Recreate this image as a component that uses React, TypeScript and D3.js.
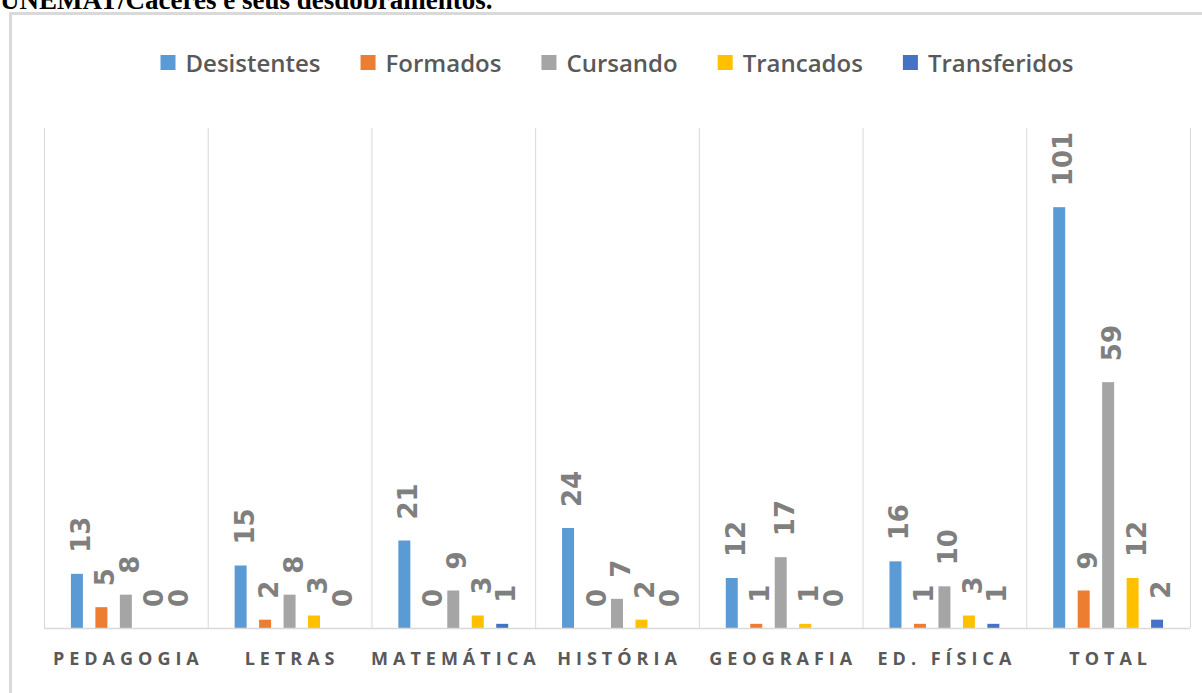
import React from "react";
import * as d3 from "d3";

const categories = ["PEDAGOGIA", "LETRAS", "MATEMÁTICA", "HISTÓRIA", "GEOGRAFIA", "ED. FÍSICA", "TOTAL"];
const seriesNames = ["Desistentes", "Formados", "Cursando", "Trancados", "Transferidos"];
const seriesColors = ["#5B9BD5", "#ED7D31", "#A5A5A5", "#FFC000", "#4472C4"];
const desistentes = [13, 15, 21, 24, 12, 16, 101];
const formados = [5, 2, 0, 0, 1, 1, 9];
const cursando = [8, 8, 9, 7, 17, 10, 59];
const trancados = [0, 3, 3, 2, 1, 3, 12];
const transferidos = [0, 0, 1, 0, 0, 1, 2];
const seriesValues = [desistentes, formados, cursando, trancados, transferidos];
const yMax = 120;
const titleText = "UNEMAT/Cáceres e seus desdobramentos.";

const W = 1202;
const H = 693;
const plot = { left: 44, right: 1190, top: 128, bottom: 628 };

function measure(text: string, font: string): number {
  const c = document.createElement("canvas").getContext("2d");
  if (!c) return text.length * 12;
  c.font = font;
  return c.measureText(text).width;
}

export default function App() {
  const x0 = d3.scaleBand<string>().domain(categories).range([plot.left, plot.right]).padding(0);
  const x1 = d3
    .scaleBand<string>()
    .domain(seriesNames)
    .range([0, x0.bandwidth()])
    .paddingInner(0.51)
    .paddingOuter(1.1);
  const y = d3.scaleLinear().domain([0, yMax]).range([plot.bottom, plot.top]);

  const legendFont = "600 24px 'Open Sans'";
  const marker = 15;
  const markerGap = 10;
  const itemGap = 40;
  const widths = seriesNames.map((s) => measure(s, legendFont));
  const total =
    widths.reduce((a, w) => a + marker + markerGap + w, 0) + itemGap * (seriesNames.length - 1);
  let lx = (plot.left + plot.right) / 2 - total / 2;
  const legendItems = seriesNames.map((s, i) => {
    const item = { name: s, color: seriesColors[i], x: lx };
    lx += marker + markerGap + widths[i] + itemGap;
    return item;
  });
  const legendBaseline = 71.5;

  const gridXs = categories.map((c) => x0(c)!).concat([plot.right]);

  return (
    <div style={{ position: "absolute", left: 0, top: 0, width: W, height: H, overflow: "hidden", background: "#fff" }}>
      <svg width={W} height={H} style={{ display: "block" }}>
        <rect x={0} y={0} width={W} height={H} fill="#ffffff" />
        <text
          x={0}
          y={9}
          fontFamily="'Liberation Serif', 'Times New Roman', serif"
          fontWeight="bold"
          fontSize={27}
          fill="#000"
        >
          {titleText}
        </text>
        <rect x={10.5} y={13.5} width={1400} height={900} fill="#fff" stroke="#d9d9d9" strokeWidth={3} />

        {/* legend */}
        {legendItems.map((it) => (
          <g key={it.name}>
            <rect x={it.x} y={55} width={marker} height={marker} fill={it.color} />
            <text
              x={it.x + marker + markerGap}
              y={legendBaseline}
              fontFamily="'Open Sans'"
              fontWeight={600}
              fontSize={24}
              fill="#595959"
            >
              {it.name}
            </text>
          </g>
        ))}

        {/* vertical category gridlines */}
        {gridXs.map((gx, i) => (
          <line key={i} x1={gx + 0.5} x2={gx + 0.5} y1={plot.top} y2={plot.bottom} stroke="#d9d9d9" strokeWidth={1} />
        ))}

        {/* bars */}
        {categories.map((c, ci) => (
          <g key={c} transform={`translate(${x0(c)},0)`}>
            {seriesNames.map((s, si) => {
              const v = seriesValues[si][ci];
              const bx = x1(s)!;
              return (
                <rect
                  key={s}
                  x={bx}
                  y={y(v)}
                  width={x1.bandwidth()}
                  height={plot.bottom - y(v)}
                  fill={seriesColors[si]}
                />
              );
            })}
          </g>
        ))}

        {/* axis line */}
        <line x1={plot.left} x2={plot.right} y1={plot.bottom + 0.5} y2={plot.bottom + 0.5} stroke="#d9d9d9" strokeWidth={1.5} />

        {/* data labels */}
        {categories.map((c, ci) =>
          seriesNames.map((s, si) => {
            const v = seriesValues[si][ci];
            const cx = x0(c)! + x1(s)! + x1.bandwidth() / 2;
            return (
              <text
                key={c + s}
                transform={`translate(${cx + 13},${y(v) - 21}) rotate(-90)`}
                fontFamily="'DejaVu Sans'"
                fontWeight="bold"
                fontSize={26}
                fill="#7f7f7f"
              >
                {v}
              </text>
            );
          })
        )}

        {/* category labels */}
        {categories.map((c) => (
          <text
            key={c}
            x={x0(c)! + x0.bandwidth() / 2 + 2.5}
            y={665}
            textAnchor="middle"
            fontFamily="'Open Sans'"
            fontWeight={700}
            fontSize={18}
            letterSpacing={5}
            fill="#595959"
          >
            {c}
          </text>
        ))}
      </svg>
    </div>
  );
}
